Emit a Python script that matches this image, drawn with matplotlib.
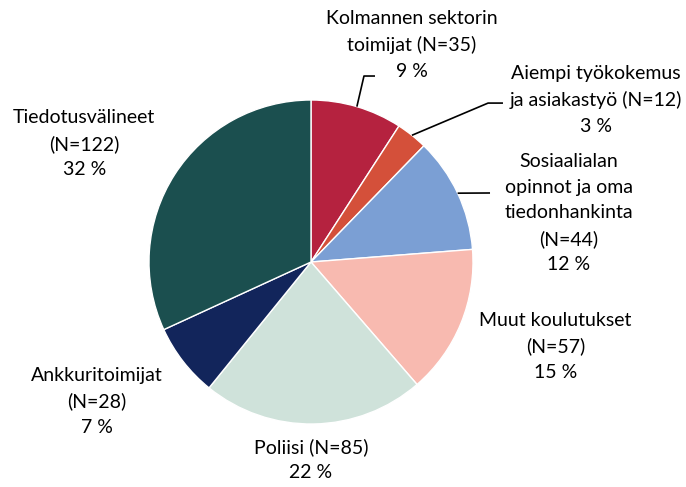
import numpy as np
import matplotlib.pyplot as plt

# data, clockwise from 12 o'clock
labels = ['Kolmannen sektorin\ntoimijat (N=35)', 'Aiempi työkokemus\nja asiakastyö (N=12)',
          'Sosiaalialan\nopinnot ja oma\ntiedonhankinta\n(N=44)', 'Muut koulutukset\n(N=57)',
          'Poliisi (N=85)', 'Ankkuritoimijat\n(N=28)', 'Tiedotusvälineet\n(N=122)']
counts = [35, 12, 44, 57, 85, 28, 122]
percents = [9, 3, 12, 15, 22, 7, 32]
colors = ['#B5223F', '#D4503A', '#7B9FD4', '#F8BAB0', '#CFE2DA', '#12255B', '#1B4F4F']

# label centres (pie radius = 1)
label_xy = [(0.62, 1.34), (1.76, 1.0), (1.59, 0.30), (1.51, -0.52),
            (0.0, -1.22), (-1.32, -0.86), (-1.40, 0.73)]
# leader line elbows / ends for the small slices
leaders = {0: [(0.327, 1.148), (0.395, 1.148)],
           1: [(1.093, 0.981), (1.185, 0.981)],
           2: [(1.105, 0.426)]}

plt.rcParams['font.family'] = ['Lato', 'DejaVu Sans']

fig = plt.figure(figsize=(6.86, 4.87), dpi=100)
ax = fig.add_axes([0, 0, 1, 1])

wedges, _ = ax.pie(counts, colors=colors, startangle=90, counterclock=False,
                   radius=1, wedgeprops=dict(edgecolor='white', linewidth=1))

for i, w in enumerate(wedges):
    txt = labels[i] + '\n' + str(percents[i]) + ' %'
    x, y = label_xy[i]
    ax.text(x, y, txt, ha='center', va='center', fontsize=14,
            linespacing=1.6, color='black')
    if i in leaders:
        ang = np.deg2rad((w.theta1 + w.theta2) / 2)
        pts = [(np.cos(ang), np.sin(ang))] + leaders[i]
        xs, ys = zip(*pts)
        ax.plot(xs, ys, color='black', lw=1.2, solid_capstyle='butt')

ax.set_xlim(-311 / 162, (686 - 311) / 162)
ax.set_ylim(-(487 - 262) / 162, 262 / 162)
ax.set_aspect('equal')
ax.axis('off')

fig.savefig('out.png', dpi=100)
